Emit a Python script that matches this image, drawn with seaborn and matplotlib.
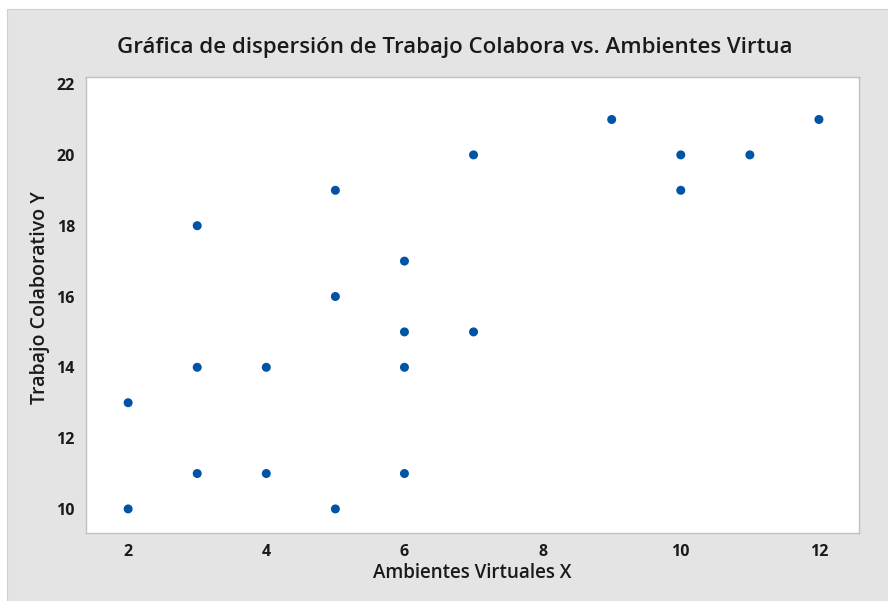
import matplotlib
matplotlib.use("Agg")
import matplotlib.pyplot as plt
import seaborn as sns
import pandas as pd
from matplotlib.patches import Rectangle

# --- data ---
ambientes_x = [2, 2, 3, 3, 3, 4, 4, 5, 5, 5, 6, 6, 6, 6, 7, 7, 9, 10, 10, 11, 12]
trabajo_y = [13, 10, 18, 14, 11, 14, 11, 19, 16, 10, 17, 15, 14, 11, 20, 15, 21, 20, 19, 20, 21]
x_ticks = [2, 4, 6, 8, 10, 12]
y_ticks = [10, 12, 14, 16, 18, 20, 22]

df = pd.DataFrame({"Ambientes Virtuales X": ambientes_x,
                   "Trabajo Colaborativo Y": trabajo_y})

sns.set_style("white")
plt.rcParams["font.family"] = ["Open Sans", "DejaVu Sans"]

fig = plt.figure(figsize=(8.88, 6.01), dpi=100, facecolor="white")
# gray panel behind the chart (white strip at top and left like the screenshot)
fig.patches.append(Rectangle((7 / 888, 0), 1, 1 - 9 / 601, transform=fig.transFigure,
                             facecolor="#e4e4e4", edgecolor="#d0d0d0", lw=0.8, zorder=-10))

ax = fig.add_axes([86 / 888, (601 - 533) / 601, (859 - 86) / 888, (533 - 77) / 601])
sns.scatterplot(data=df, x="Ambientes Virtuales X", y="Trabajo Colaborativo Y",
                color="#0054a6", s=42, edgecolor="none", ax=ax)

ax.set_xlim(1.39, 12.58)
ax.set_ylim(9.32, 22.2)
ax.set_xticks(x_ticks)
ax.set_yticks(y_ticks)
ax.set_facecolor("white")
for sp in ax.spines.values():
    sp.set_color("#c0c0c0")
    sp.set_linewidth(1.0)
ax.tick_params(axis="both", length=4, width=0.8, color="#b0b0b0",
               labelsize=11.5, labelcolor="#1a1a1a", pad=4)
for lbl in ax.get_xticklabels() + ax.get_yticklabels():
    lbl.set_fontweight("bold")

ax.set_xlabel("Ambientes Virtuales X", fontsize=13.5, fontweight="semibold",
              color="#1a1a1a", labelpad=2)
ax.set_ylabel("Trabajo Colaborativo Y", fontsize=14, fontweight="semibold",
              color="#1a1a1a")
ax.yaxis.set_label_coords(-0.047, 0.517)
fig.text(455 / 888, 1 - 48 / 601, "Gráfica de dispersión de Trabajo Colabora vs. Ambientes Virtua",
         ha="center", va="center", fontsize=16, fontweight="semibold", color="#1a1a1a")

fig.savefig("out.png", dpi=100, facecolor=fig.get_facecolor())
